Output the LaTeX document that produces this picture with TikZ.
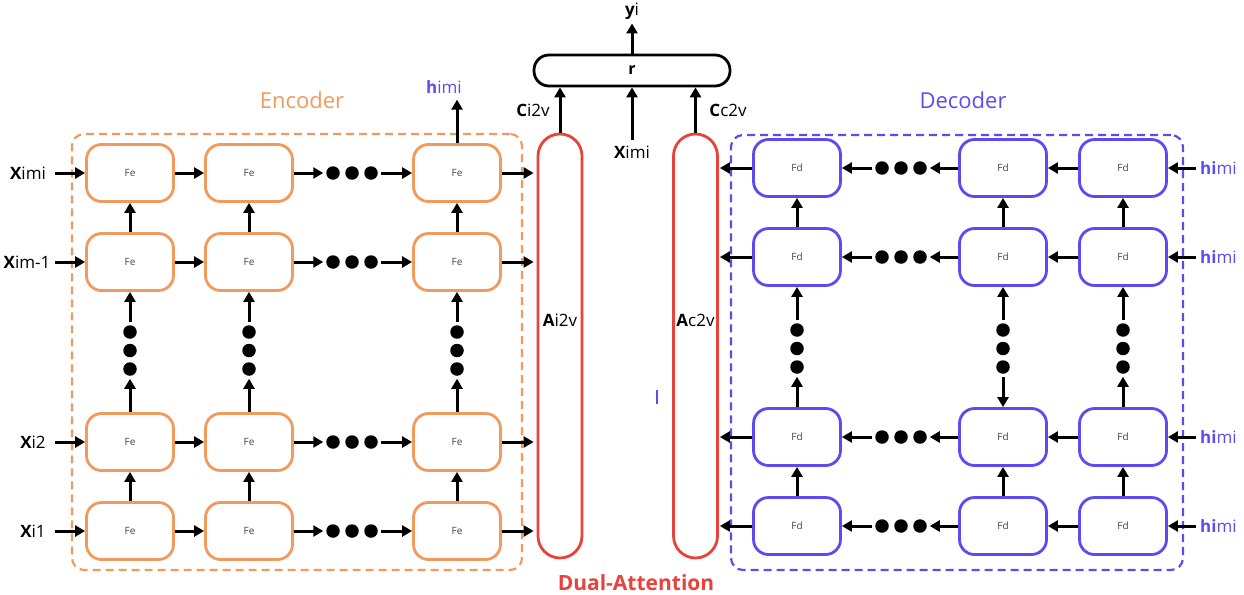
\documentclass[tikz,border=0pt]{standalone}
\usepackage{fontspec}
\setmainfont{Open Sans}
\usetikzlibrary{arrows.meta}
\definecolor{encorange}{HTML}{F19A5E}
\definecolor{decblue}{HTML}{5B4CF2}
\definecolor{attred}{HTML}{E8433A}
\definecolor{celltext}{HTML}{444444}
\begin{document}
\begin{tikzpicture}[x=1pt,y=-1pt,
  cell/.style={draw, line width=2.8pt, rounded corners=15pt, minimum width=87pt,
    minimum height=57pt, inner sep=0pt, fill=white,
    font=\fontsize{10}{12}\selectfont, text=celltext},
  fe/.style={cell, draw=encorange},
  fd/.style={cell, draw=decblue},
  flow/.style={line width=3pt, -{Triangle[length=10pt,width=11pt]}},
  dot/.style={circle, fill=black, minimum size=13.5pt, inner sep=0pt, outer sep=3pt},
  lbl/.style={font=\fontsize{17}{20}\selectfont, inner sep=1pt},
  group/.style={line width=2.2pt, dash pattern=on 8pt off 5pt, rounded corners=12pt, inner sep=0pt},
  attn/.style={draw=attred, line width=2.8pt, rounded corners=22pt, minimum width=44pt,
    minimum height=424pt, inner sep=0pt},
  title/.style={font=\fontsize{22}{26}\selectfont}
]
\useasboundingbox (0,0) rectangle (1244,594);

% dashed group frames
\node[group, draw=encorange, minimum width=450pt, minimum height=436pt] (encbox) at (297,352) {};
\node[group, draw=decblue, minimum width=452pt, minimum height=435pt] (decbox) at (957,352.5) {};

\node[title, text=encorange] (enctitle) at (302,100) {Encoder};
\node[title, text=decblue] (dectitle) at (963,100) {Decoder};

% attention columns and readout
\node[attn] (ai) at (560,346) {};
\node[attn] (ac) at (695.5,346) {};
\node[lbl] (ailbl) at (560,320) {{\bfseries A}i2v};
\node[lbl] (aclbl) at (695.5,320) {{\bfseries A}c2v};
\node[draw, line width=2.8pt, rounded corners=15pt, minimum width=196pt, minimum height=31pt,
  inner sep=0pt, font=\fontsize{16}{19}\selectfont\bfseries] (r) at (632,70.5) {r};
\node[lbl] (yi) at (632,11) {{\bfseries y}i};
\node[lbl] (xmid) at (632,152) {{\bfseries X}imi};
\node[lbl] (ci) at (533,110) {{\bfseries C}i2v};
\node[lbl] (cc) at (728,110) {{\bfseries C}c2v};
\node[title, text=attred, font=\fontsize{21}{25}\selectfont\bfseries] (dual) at (636,583) {Dual-Attention};

\draw[flow, shorten >=3pt] (r.north) -- (yi.south);
\draw[flow] (ai.north) -- (ai.north |- r.south);
\draw[flow] (ac.north) -- (ac.north |- r.south);
\draw[flow, shorten <=5pt] (xmid.north) -- (r.south);

% encoder cells
\foreach \c/\x in {1/130,2/249,3/457}
  \foreach \r/\y in {1/173,2/262,3/442,4/531}
    \node[fe] (e\c\r) at (\x,\y) {Fe};

% encoder inputs: labels and the start points of their arrows
\foreach \r/\x/\y/\t in {1/28/173/{{\bfseries X}imi},2/27/262/{{\bfseries X}im-1},3/33/442/{{\bfseries X}i2},4/33/531/{{\bfseries X}i1}}{
  \node[lbl] (ein\r) at (\x,\y) {\t};
  \coordinate (eins\r) at (55,\y);
}

% encoder rows: inputs, recurrences, dots, outputs to attention
\foreach \r/\y in {1/173,2/262,3/442,4/531}{
  \node[dot] (ed\r a) at (333,\y) {};
  \node[dot] (ed\r b) at (352,\y) {};
  \node[dot] (ed\r c) at (371,\y) {};
  \draw[flow] (eins\r) -- (e1\r.west);
  \draw[flow] (e1\r.east) -- (e2\r.west);
  \draw[flow] (e2\r.east) -- (ed\r a.west);
  \draw[flow] (ed\r c.east) -- (e3\r.west);
  \draw[flow, shorten >=3pt] (e3\r.east) -- (e3\r.east -| ai.west);
}

% encoder columns
\foreach \c/\x in {1/130,2/249,3/457}{
  \node[dot] (ev\c a) at (\x,332) {};
  \node[dot] (ev\c b) at (\x,350.5) {};
  \node[dot] (ev\c c) at (\x,369) {};
  \draw[flow] (e\c4.north) -- (e\c3.south);
  \draw[flow] (e\c3.north) -- (ev\c c.south);
  \draw[flow] (ev\c a.north) -- (e\c2.south);
  \draw[flow] (e\c2.north) -- (e\c1.south);
}

% encoder hidden state output
\node[lbl, text=decblue] (hout) at (444,87) {{\bfseries h}imi};
\draw[flow, shorten >=5pt] (e31.north) -- (e31.north |- hout.south);

% decoder cells
\foreach \c/\x in {1/797,2/1003,3/1123}
  \foreach \r/\y in {1/168,2/257,3/437,4/526}
    \node[fd] (d\c\r) at (\x,\y) {Fd};

% decoder rows (right to left)
\foreach \r/\y in {1/168,2/257,3/437,4/526}{
  \node[lbl, text=decblue, anchor=west, inner xsep=4pt] (din\r) at (1196,\y) {{\bfseries hi}mi};
  \node[dot] (dd\r a) at (882,\y) {};
  \node[dot] (dd\r b) at (901,\y) {};
  \node[dot] (dd\r c) at (920,\y) {};
  \draw[flow] (din\r.west) -- (d3\r.east);
  \draw[flow] (d3\r.west) -- (d2\r.east);
  \draw[flow] (d2\r.west) -- (dd\r c.east);
  \draw[flow] (dd\r a.west) -- (d1\r.east);
  \draw[flow, shorten >=1pt] (d1\r.west) -- (d1\r.west -| ac.east);
}

% decoder columns
\foreach \c/\x in {1/797,2/1003,3/1123}{
  \node[dot] (dv\c a) at (\x,330) {};
  \node[dot] (dv\c b) at (\x,348.5) {};
  \node[dot] (dv\c c) at (\x,367) {};
  \draw[flow] (dv\c a.north) -- (d\c2.south);
  \draw[flow] (d\c2.north) -- (d\c1.south);
}
\foreach \c in {1,2,3}
  \draw[flow] (d\c4.north) -- (d\c3.south);
\draw[flow] (d13.north) -- (dv1c.south);
\draw[flow] (dv2c.south) -- (d23.north);
\draw[flow] (d33.north) -- (dv3c.south);

% small stroke between the attention columns
\draw[decblue, line width=1.5pt] (657,390) -- (657,404);
\end{tikzpicture}
\end{document}
